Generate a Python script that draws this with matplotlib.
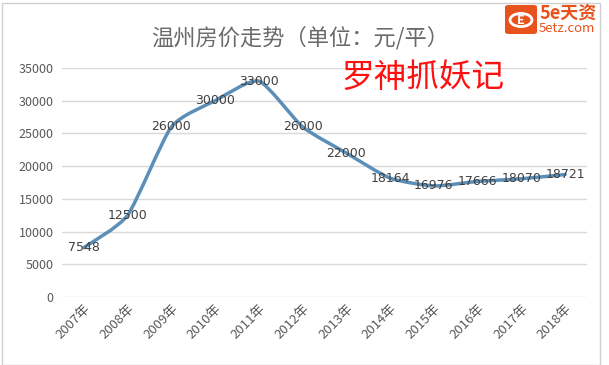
import matplotlib
matplotlib.use("Agg")
import matplotlib.pyplot as plt
from matplotlib.path import Path
from matplotlib.patches import PathPatch, FancyBboxPatch, Rectangle, Circle
import numpy as np

plt.rcParams['font.family'] = ['Noto Sans CJK SC', 'DejaVu Sans']

years = ["2007年", "2008年", "2009年", "2010年", "2011年", "2012年",
         "2013年", "2014年", "2015年", "2016年", "2017年", "2018年"]
prices = [7548, 12500, 26000, 30000, 33000, 26000,
          22000, 18164, 16976, 17666, 18070, 18721]
title = "温州房价走势（单位：元/平）"
watermark = "罗神抓妖记"

W, H = 609, 365
fig = plt.figure(figsize=(W / 100, H / 100), dpi=100)
ax = fig.add_axes([62 / W, 68 / H, 525 / W, 229 / H])

x = np.arange(len(prices))
y = np.array(prices, dtype=float)

# lightly smoothed line (Catmull-Rom with low tension as cubic Bezier)
k = 10.0
verts = [(x[0], y[0])]
codes = [Path.MOVETO]
n = len(x)
for i in range(n - 1):
    p0 = (x[max(i - 1, 0)], y[max(i - 1, 0)])
    p1 = (x[i], y[i])
    p2 = (x[i + 1], y[i + 1])
    p3 = (x[min(i + 2, n - 1)], y[min(i + 2, n - 1)])
    c1 = (p1[0] + (p2[0] - p0[0]) / k, p1[1] + (p2[1] - p0[1]) / k)
    c2 = (p2[0] - (p3[0] - p1[0]) / k, p2[1] - (p3[1] - p1[1]) / k)
    verts += [c1, c2, p2]
    codes += [Path.CURVE4] * 3
ax.add_patch(PathPatch(Path(verts, codes), facecolor="none",
                       edgecolor="#5b8fb8", lw=2.5, zorder=3,
                       capstyle="round", joinstyle="round"))

for xi, yi in zip(x, prices):
    ax.text(xi, yi, str(yi), ha="center", va="center", fontsize=9,
            color="#404040", zorder=4, family=["DejaVu Sans"])

ax.set_xlim(-0.5, n - 0.5)
ax.set_ylim(0, 35000)
ax.set_yticks(range(0, 35001, 5000))
ax.set_xticks(x)
ax.set_xticklabels(years, rotation=45, ha="right", rotation_mode="anchor",
                   fontsize=9.5, color="#595959")
ax.tick_params(axis="y", labelsize=9, labelcolor="#595959", length=0, pad=6)
ax.tick_params(axis="x", length=0, pad=4)
ax.grid(axis="y", color="#d9d9d9", lw=1.0)
ax.set_axisbelow(True)
for s in ax.spines.values():
    s.set_visible(False)

# chart title and watermark
fig.text(300 / W, 1 - 38 / H, title, ha="center", va="center",
         fontsize=16, color="#6a6a6a")
fig.text(423 / W, 1 - 78 / H, watermark, ha="center", va="center",
         fontsize=23.5, color="#ff1010")

# outer chart border
fig.add_artist(Rectangle((2 / W, 0), 598 / W, 1 - 3 / H, transform=fig.transFigure,
                         facecolor="none", edgecolor="#d0d0d0", lw=1.0))

# logo in the top-right corner
fig.add_artist(FancyBboxPatch((505 / W, 1 - 34 / H), 32 / W, 29 / H,
                              boxstyle="round,pad=0,rounding_size=0.006",
                              transform=fig.transFigure, facecolor="#e8531d",
                              edgecolor="none"))
fig.add_artist(Circle((521 / W, 1 - 20 / H), 0.018, transform=fig.transFigure,
                      facecolor="none", edgecolor="white", lw=2.0))
fig.text(521 / W, 1 - 20 / H, "E", ha="center", va="center", fontsize=9,
         color="white", fontweight="bold")
fig.text(539 / W, 1 - 13 / H, "5e天资", ha="left", va="center", fontsize=13,
         color="#e8531d", fontweight="bold")
fig.text(539 / W, 1 - 29 / H, "5etz.com", ha="left", va="center", fontsize=9.5,
         color="#e8531d")

fig.savefig("out.png", dpi=100)
